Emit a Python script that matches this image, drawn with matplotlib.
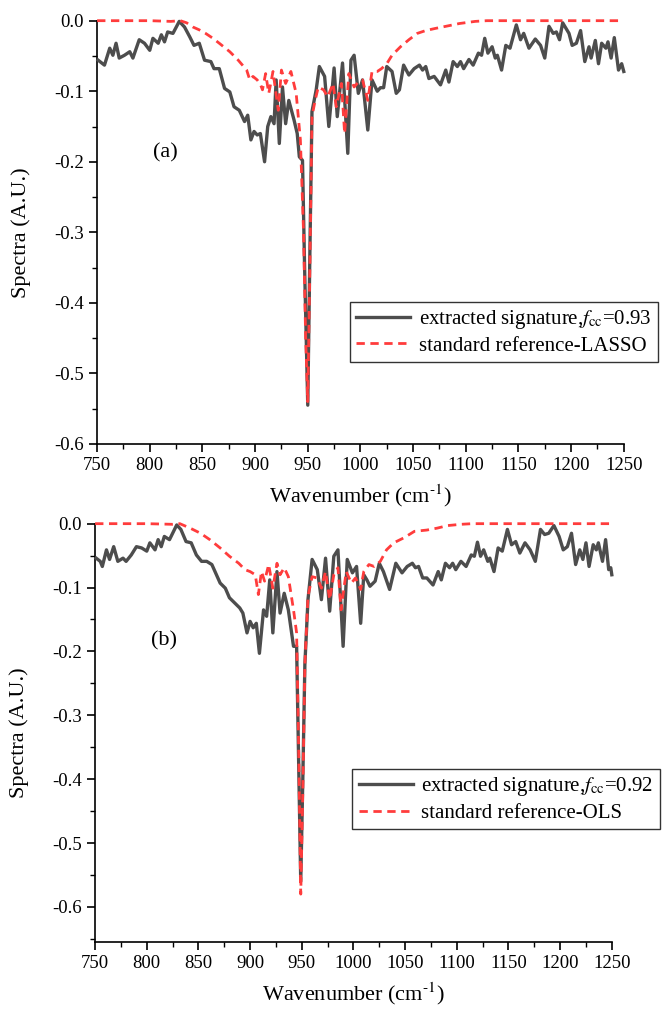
import matplotlib
matplotlib.use("Agg")
import matplotlib.pyplot as plt
from matplotlib.ticker import MultipleLocator, FormatStrFormatter

plt.rcParams['font.family'] = ['Liberation Serif', 'DejaVu Serif']
plt.rcParams['mathtext.fontset'] = 'stix'
plt.rcParams['axes.unicode_minus'] = False

# ---- panel (a): LASSO ----
xa_sig = [751, 757, 762, 765, 768, 771, 776, 781, 784, 790, 795, 800, 803, 808, 811, 814, 817, 822,
          828, 833, 838, 842, 847, 852, 858, 861, 866, 871, 876, 880, 885, 890, 893, 896, 899, 902,
          905, 909, 912, 915, 918, 920, 923, 926, 929, 932, 937, 940, 942, 945, 947, 950, 952, 954,
          958, 961, 966, 970, 975, 978, 983, 988, 991, 994, 998, 1002, 1007, 1011, 1016, 1019, 1022,
          1025, 1030, 1034, 1037, 1041, 1046, 1051, 1056, 1059, 1062, 1065, 1070, 1076, 1081, 1084,
          1088, 1092, 1095, 1098, 1103, 1107, 1112, 1115, 1118, 1121, 1125, 1128, 1130, 1134, 1138,
          1142, 1148, 1152, 1155, 1160, 1166, 1171, 1175, 1179, 1183, 1186, 1189, 1192, 1198, 1201,
          1205, 1209, 1213, 1217, 1219, 1223, 1226, 1229, 1233, 1235, 1238, 1241, 1245, 1248, 1250]
ya_sig = [-0.056, -0.063, -0.039, -0.049, -0.032, -0.053, -0.049, -0.044, -0.053, -0.027, -0.032,
          -0.042, -0.025, -0.032, -0.020, -0.030, -0.016, -0.018, -0.001, -0.009, -0.023, -0.035,
          -0.032, -0.056, -0.058, -0.068, -0.068, -0.096, -0.101, -0.122, -0.127, -0.143, -0.134,
          -0.169, -0.157, -0.162, -0.160, -0.200, -0.150, -0.136, -0.146, -0.084, -0.174, -0.094,
          -0.146, -0.113, -0.141, -0.160, -0.193, -0.198, -0.350, -0.545, -0.330, -0.129,
          -0.098, -0.065, -0.079, -0.150, -0.067, -0.136, -0.060, -0.188, -0.056, -0.049, -0.103,
          -0.084, -0.155, -0.084, -0.100, -0.095, -0.095, -0.065, -0.072, -0.103, -0.098, -0.063,
          -0.077, -0.068, -0.063, -0.070, -0.065, -0.082, -0.079, -0.091, -0.070, -0.087, -0.058,
          -0.065, -0.058, -0.068, -0.055, -0.063, -0.046, -0.049, -0.025, -0.046, -0.037, -0.053,
          -0.049, -0.070, -0.035, -0.039, -0.006, -0.027, -0.018, -0.039, -0.026, -0.035, -0.053,
          -0.008, -0.018, -0.016, -0.027, -0.003, -0.018, -0.035, -0.032, -0.014, -0.058, -0.037,
          -0.053, -0.028, -0.061, -0.032, -0.039, -0.030, -0.053, -0.024, -0.070, -0.061, -0.072]

xa_ref = [750, 770, 800, 820, 829, 835, 841, 847, 853, 860, 866, 871, 876, 880, 884, 888, 892, 895,
          898, 902, 905, 907, 910, 913, 917, 922, 925, 929, 934, 939, 943, 946, 948, 950, 952, 954,
          957, 960, 965, 969, 974, 977, 982, 985, 989, 994, 998, 1002, 1007, 1011, 1016, 1020, 1025,
          1030, 1038, 1046, 1054, 1062, 1071, 1081, 1094, 1109, 1120, 1245]
ya_ref = [0.0, 0.0, 0.0, -0.001, 0.0, -0.003, -0.009, -0.013, -0.018, -0.025, -0.032, -0.038, -0.044,
          -0.050, -0.056, -0.063, -0.070, -0.084, -0.079, -0.084, -0.090, -0.098, -0.075, -0.103,
          -0.072, -0.127, -0.070, -0.089, -0.072, -0.103, -0.169, -0.300, -0.450, -0.540, -0.350,
          -0.136, -0.113, -0.094, -0.098, -0.108, -0.089, -0.122, -0.089, -0.160, -0.075, -0.094,
          -0.087, -0.084, -0.113, -0.072, -0.072, -0.068, -0.061, -0.049, -0.037, -0.027, -0.018,
          -0.014, -0.011, -0.008, -0.004, -0.001, 0.0, 0.0]

# ---- panel (b): OLS ----
xb_sig = [751, 755, 757, 761, 764, 768, 772, 777, 780, 785, 790, 795, 800, 803, 808, 811, 814, 817,
          822, 829, 833, 838, 843, 848, 853, 858, 863, 866, 871, 876, 880, 885, 890, 893, 897, 900,
          903, 906, 909, 913, 916, 919, 922, 926, 929, 933, 937, 942, 945, 947, 949, 951, 953, 956,
          960, 965, 969, 973, 977, 981, 985, 990, 994, 999, 1003, 1007, 1010, 1013, 1016, 1021, 1025,
          1029, 1035, 1041, 1047, 1052, 1057, 1060, 1063, 1067, 1071, 1077, 1082, 1085, 1089, 1093,
          1096, 1099, 1104, 1109, 1114, 1117, 1120, 1123, 1126, 1130, 1132, 1136, 1140, 1144, 1149,
          1153, 1157, 1161, 1166, 1171, 1176, 1181, 1185, 1189, 1194, 1199, 1203, 1207, 1211, 1215,
          1219, 1222, 1225, 1228, 1232, 1235, 1237, 1241, 1244, 1247, 1249, 1250]
yb_sig = [-0.054, -0.059, -0.067, -0.041, -0.056, -0.036, -0.059, -0.054, -0.059, -0.049, -0.036,
          -0.038, -0.043, -0.030, -0.041, -0.025, -0.036, -0.020, -0.025, -0.002, -0.009, -0.028,
          -0.030, -0.049, -0.059, -0.059, -0.064, -0.075, -0.093, -0.101, -0.116, -0.124, -0.132,
          -0.140, -0.171, -0.153, -0.163, -0.156, -0.203, -0.135, -0.145, -0.088, -0.171, -0.075,
          -0.140, -0.109, -0.135, -0.192, -0.192, -0.380, -0.560, -0.400, -0.220, -0.119, -0.056,
          -0.072, -0.119, -0.054, -0.137, -0.051, -0.041, -0.192, -0.056, -0.077, -0.067, -0.156,
          -0.080, -0.088, -0.098, -0.090, -0.062, -0.075, -0.103, -0.062, -0.077, -0.067, -0.062,
          -0.069, -0.067, -0.085, -0.085, -0.096, -0.075, -0.088, -0.062, -0.069, -0.062, -0.072,
          -0.059, -0.067, -0.049, -0.051, -0.029, -0.051, -0.041, -0.059, -0.054, -0.075, -0.038,
          -0.043, -0.009, -0.033, -0.028, -0.046, -0.030, -0.041, -0.059, -0.009, -0.017, -0.015,
          -0.003, -0.020, -0.041, -0.036, -0.015, -0.064, -0.041, -0.056, -0.030, -0.067, -0.033,
          -0.041, -0.030, -0.059, -0.025, -0.072, -0.069, -0.080]

xb_ref = [750, 800, 825, 832, 842, 852, 861, 871, 880, 889, 895, 900, 905, 908, 911, 914, 918, 922,
          926, 929, 933, 937, 942, 945, 947, 949, 951, 953, 956, 960, 965, 969, 973, 977, 981, 985,
          988, 993, 998, 1002, 1007, 1010, 1015, 1020, 1026, 1032, 1039, 1049, 1059, 1071, 1081,
          1091, 1104, 1115, 1248]
yb_ref = [0.0, 0.0, -0.001, 0.0, -0.007, -0.015, -0.025, -0.038, -0.051, -0.062, -0.072, -0.075,
          -0.080, -0.111, -0.075, -0.090, -0.064, -0.101, -0.062, -0.080, -0.069, -0.083, -0.135,
          -0.171, -0.350, -0.580, -0.420, -0.220, -0.114, -0.083, -0.085, -0.101, -0.075, -0.119,
          -0.080, -0.069, -0.135, -0.075, -0.093, -0.085, -0.103, -0.075, -0.064, -0.067, -0.059,
          -0.041, -0.030, -0.022, -0.012, -0.010, -0.007, -0.003, -0.001, 0.0, 0.0]

sig_color = '#4d4d4d'
ref_color = '#ff3c3c'

fig = plt.figure(figsize=(6.65, 10.09), dpi=100)
ax1 = fig.add_axes([0.146, 0.560, 0.792, 0.4195])
ax2 = fig.add_axes([0.143, 0.0664, 0.777, 0.4146])

panels = [
    (ax1, xa_sig, ya_sig, xa_ref, ya_ref, "extracted signature,$\\mathit{f}_{\\mathrm{cc}}$=0.93",
     "standard reference-LASSO", "(a)", (815, -0.188), -0.6, (0.989, 0.701)),
    (ax2, xb_sig, yb_sig, xb_ref, yb_ref, "extracted signature,$\\mathit{f}_{\\mathrm{cc}}$=0.92",
     "standard reference-OLS", "(b)", (817, -0.184), -0.655, (0.992, 0.238)),
]

for ax, xs, ys, xr, yr, lab1, lab2, tag, tagpos, ymin, anchor in panels:
    ax.plot(xs, ys, color=sig_color, lw=2.4, label=lab1, clip_on=False, zorder=3)
    ax.plot(xr, yr, color=ref_color, lw=2.0, ls=(0, (3, 2)), label=lab2, clip_on=False, zorder=4)
    ax.set_xlim(750, 1250)
    ax.set_ylim(ymin, 0)
    ax.xaxis.set_major_locator(MultipleLocator(50))
    ax.xaxis.set_minor_locator(MultipleLocator(25))
    ax.yaxis.set_major_locator(MultipleLocator(0.1))
    ax.yaxis.set_minor_locator(MultipleLocator(0.05))
    ax.yaxis.set_major_formatter(FormatStrFormatter('%.1f'))
    ax.spines['top'].set_visible(False)
    ax.spines['right'].set_visible(False)
    for s in ('left', 'bottom'):
        ax.spines[s].set_linewidth(1.2)
    ax.tick_params(which='major', direction='out', length=6, width=1.2, labelsize=13.5)
    ax.tick_params(which='minor', direction='out', length=3.5, width=1.0)
    ax.set_xlabel("Wavenumber (cm$^{\\text{-1}}$)", fontsize=16, labelpad=6)
    ax.set_ylabel("Spectra (A.U.)", fontsize=16)
    ax.text(tagpos[0], tagpos[1], tag, fontsize=16, ha='center', va='center')
    leg = ax.legend(loc='upper right', bbox_to_anchor=anchor, bbox_transform=fig.transFigure,
                    fontsize=15, fancybox=False, edgecolor='#333333', framealpha=1,
                    handlelength=2.6, borderpad=0.3, labelspacing=0.25, handletextpad=0.4,
                    borderaxespad=0)
    leg.get_frame().set_linewidth(1.0)

ax1.yaxis.set_label_coords(-0.125, 0.5)
ax2.yaxis.set_label_coords(-0.128, 0.5)

fig.savefig('out.png', dpi=100)
